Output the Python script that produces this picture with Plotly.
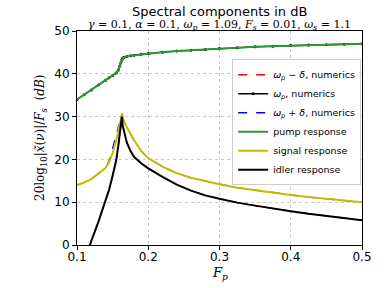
import plotly.graph_objects as go

F_p = [0.10, 0.11, 0.12, 0.13, 0.14, 0.145, 0.15, 0.155, 0.158, 0.16, 0.1615, 0.163,
       0.164, 0.166, 0.17, 0.175, 0.18, 0.19, 0.20, 0.22, 0.24, 0.26, 0.28, 0.30,
       0.325, 0.35, 0.375, 0.40, 0.425, 0.45, 0.475, 0.50]

pump_db = [34.0, 35.1, 36.2, 37.4, 38.5, 39.1, 39.6, 40.2, 40.9, 41.8, 42.6, 43.3,
           43.6, 43.85, 44.05, 44.2, 44.35, 44.55, 44.75, 45.05, 45.3, 45.5, 45.7, 45.9,
           46.1, 46.3, 46.45, 46.6, 46.7, 46.8, 46.9, 47.0]

signal_db = [14.0, 14.6, 15.4, 16.6, 18.0, 19.3, 21.5, 24.4, 26.5, 27.8, 29.3, 30.8,
             29.8, 28.8, 27.5, 26.0, 24.5, 22.0, 20.3, 18.3, 16.8, 15.7, 14.9, 14.2,
             13.4, 12.8, 12.2, 11.7, 11.2, 10.8, 10.4, 10.0]

signal_num_db = [14.0, 14.6, 15.4, 16.6, 18.0, 19.6, 22.5, 25.5, 27.5, 28.8, 29.6, 30.5,
                 29.8, 28.8, 27.5, 26.0, 24.5, 22.0, 20.3, 18.3, 16.8, 15.7, 14.9, 14.2,
                 13.4, 12.8, 12.2, 11.7, 11.2, 10.8, 10.4, 10.0]

idler_db = [-9.0, -4.0, 0.9, 5.4, 10.1, 12.9, 16.2, 19.8, 23.2, 25.8, 28.0, 30.0,
            28.0, 26.5, 23.9, 22.0, 20.6, 19.1, 17.9, 15.9, 14.1, 12.7, 11.6, 10.8,
            9.9, 9.2, 8.5, 7.9, 7.3, 6.8, 6.3, 5.8]

x_ticks = [0.1, 0.2, 0.3, 0.4, 0.5]
y_ticks = [0, 10, 20, 30, 40, 50]

fig = go.Figure()
fig.add_trace(go.Scatter(x=F_p, y=idler_db, mode="lines",
                         line=dict(color="#ff0000", width=1.3, dash="dash"),
                         name="<i>ω<sub>p</sub></i> − <i>δ</i>, numerics"))
fig.add_trace(go.Scatter(x=F_p, y=pump_db, mode="lines+markers",
                         line=dict(color="black", width=1.3),
                         marker=dict(color="black", size=3),
                         name="<i>ω<sub>p</sub></i>, numerics"))
fig.add_trace(go.Scatter(x=F_p, y=signal_num_db, mode="lines",
                         line=dict(color="#0000ff", width=1.3, dash="dash"),
                         name="<i>ω<sub>p</sub></i> + <i>δ</i>, numerics"))
fig.add_trace(go.Scatter(x=F_p, y=pump_db, mode="lines",
                         line=dict(color="#2a9a2a", width=2),
                         name="pump response"))
fig.add_trace(go.Scatter(x=F_p, y=signal_db, mode="lines",
                         line=dict(color="#bfbf00", width=2),
                         name="signal response"))
fig.add_trace(go.Scatter(x=F_p, y=idler_db, mode="lines",
                         line=dict(color="black", width=2),
                         name="idler response"))

axis_common = dict(showline=True, linecolor="black", linewidth=1, mirror=True,
                   ticks="outside", ticklen=4, tickcolor="black",
                   showgrid=True, gridcolor="#c8c8c8", griddash="dot", gridwidth=1,
                   zeroline=False,
                   tickfont=dict(family="DejaVu Sans", size=12, color="black"))

fig.update_xaxes(range=[0.1, 0.5], tickvals=x_ticks, ticktext=[str(v) for v in x_ticks],
                 ticklabelstandoff=-3, **axis_common)
fig.update_yaxes(range=[0, 50], tickvals=y_ticks, **axis_common)

fig.update_layout(
    width=384, height=288,
    margin=dict(l=77, r=19, t=31, b=43),
    plot_bgcolor="white", paper_bgcolor="white",
    showlegend=True,
    legend=dict(x=0.997, y=0.868, xanchor="right", yanchor="top",
                bgcolor="white", bordercolor="#cccccc", borderwidth=1,
                font=dict(family="DejaVu Sans", size=9.5, color="black"),
                tracegroupgap=0, itemwidth=30),
)

fig.add_annotation(text="Spectral components in dB", xref="paper", yref="paper",
                   x=0.5, y=1.0, yshift=20, xanchor="center", yanchor="middle",
                   showarrow=False, font=dict(family="DejaVu Sans", size=13, color="black"))
fig.add_annotation(text="<i>γ</i> = 0.1, <i>α</i> = 0.1, <i>ω<sub>p</sub></i> = 1.09, "
                        "<i>F<sub>s</sub></i> = 0.01, <i>ω<sub>s</sub></i> = 1.1",
                   xref="paper", yref="paper", x=0.5, y=1.0, yshift=6,
                   xanchor="center", yanchor="middle", showarrow=False,
                   font=dict(family="DejaVu Serif", size=11, color="black"))
fig.add_annotation(text="<i>F<sub>p</sub></i>", xref="paper", yref="paper",
                   x=0.5, y=0, yshift=-28, xanchor="center", yanchor="middle",
                   showarrow=False, font=dict(family="DejaVu Serif", size=13, color="black"))
fig.add_annotation(text="20log<sub>10</sub>|<i>x̃</i>(<i>ν</i>)|/<i>F<sub>s</sub></i>  (<i>dB</i>)",
                   xref="paper", yref="paper", x=0, xshift=-36, y=0.5,
                   xanchor="center", yanchor="middle", textangle=-90,
                   showarrow=False, font=dict(family="DejaVu Serif", size=12, color="black"))

fig.write_html("out.html", config={"displayModeBar": False},
               post_script="document.body.style.margin='0';")
